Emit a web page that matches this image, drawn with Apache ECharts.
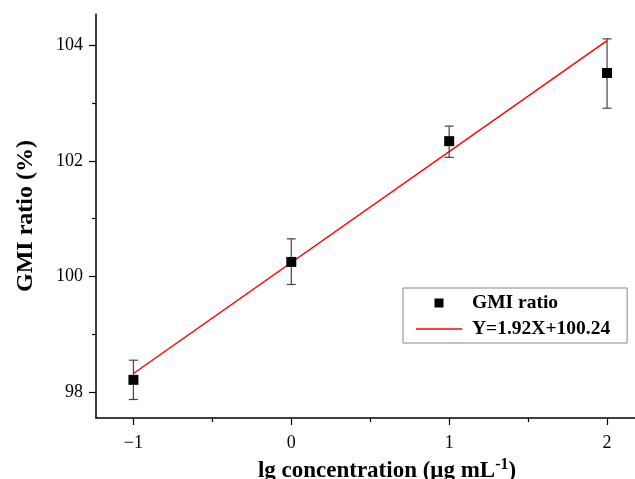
<!DOCTYPE html>
<html>
<head>
<meta charset="utf-8">
<script src="https://cdn.jsdelivr.net/npm/echarts@6/dist/echarts.min.js"></script>
<style>
  html, body { margin: 0; padding: 0; background: #fff; }
  #chart { width: 635px; height: 479px; }
</style>
</head>
<body>
<div id="chart"></div>
<script>
// data
const conc = [-1, 0, 1, 2];
const gmiRatio = [98.21, 100.25, 102.34, 103.52];
const errLow = [97.87, 99.86, 102.06, 102.91];
const errHigh = [98.55, 100.65, 102.60, 104.11];
const fitX = [-1, 2];
const fitY = [98.32, 104.08];
const xTicks = [-1, 0, 1, 2];
const xMinor = [-0.5, 0.5, 1.5];
const yTicks = [98, 100, 102, 104];
const yMinor = [99, 101, 103];

const FONT = '"Liberation Serif", "DejaVu Serif", serif';

(function(){
  const chart = echarts.init(document.getElementById('chart'));

  const axisLine = { show: true, onZero: false, lineStyle: { color: '#000', width: 1.5 } };

  const points = conc.map((x, i) => [x, gmiRatio[i]]);
  const bars = conc.map((x, i) => [x, errLow[i], errHigh[i]]);
  const fit = fitX.map((x, i) => [x, fitY[i]]);

  function renderErr(params, api){
    const lo = api.coord([api.value(0), api.value(1)]);
    const hi = api.coord([api.value(0), api.value(2)]);
    const cap = 4.5;
    const style = { stroke: '#444', lineWidth: 1.2 };
    return {
      type: 'group',
      children: [
        { type: 'line', shape: { x1: lo[0], y1: lo[1], x2: hi[0], y2: hi[1] }, style },
        { type: 'line', shape: { x1: lo[0]-cap, y1: lo[1], x2: lo[0]+cap, y2: lo[1] }, style },
        { type: 'line', shape: { x1: hi[0]-cap, y1: hi[1], x2: hi[0]+cap, y2: hi[1] }, style }
      ]
    };
  }

  chart.setOption({
    animation: false,
    grid: { left: 96, right: 0, top: 14, bottom: 61, outerBoundsMode: 'none' },
    legend: {
      orient: 'vertical',
      left: 403, top: 288,
      itemWidth: 46, itemHeight: 9, itemGap: 6,
      padding: [5, 17, 4, 13],
      borderColor: '#888', borderWidth: 1,
      symbolKeepAspect: true,
      textStyle: { fontFamily: FONT, fontWeight: 'bold', fontSize: 19.5, color: '#000', lineHeight: 20, padding: [0, 0, 0, 5] },
      data: [
        { name: 'GMI ratio', icon: 'path://M0,0H10V10H0Z' },
        { name: 'Y=1.92X+100.24', icon: 'path://M0,0H46V1.5H0Z' }
      ]
    },
    xAxis: [
      {
        type: 'value', min: -1.237, max: 2.177, position: 'bottom',
        axisLine,
        splitLine: { show: false },
        axisTick: { show: true, length: 7, customValues: xTicks, lineStyle: { color: '#000', width: 1.2 } },
        axisLabel: {
          customValues: xTicks, margin: 16,
          fontFamily: FONT, fontSize: 18, color: '#000',
          formatter: v => String(v).replace('-', '\u2212')
        },
        name: '{a|lg concentration (\u03bcg mL}{s|-1}{a|)}',
        nameLocation: 'middle', nameGap: 33,
        nameTextStyle: {
          padding: [0, 0, 0, 43],
          rich: {
            a: { fontFamily: FONT, fontWeight: 'bold', fontSize: 23, color: '#000', verticalAlign: 'bottom', lineHeight: 26 },
            s: { fontFamily: FONT, fontWeight: 'bold', fontSize: 16, color: '#000', verticalAlign: 'top', lineHeight: 26, padding: [0, 0, 8, 0] }
          }
        }
      },
      {
        type: 'value', min: -1.237, max: 2.177, position: 'bottom',
        axisLine: { show: false, onZero: false },
        splitLine: { show: false },
        axisTick: { show: true, length: 4, customValues: xMinor, lineStyle: { color: '#000', width: 1.2 } },
        axisLabel: { show: false, customValues: xMinor }
      }
    ],
    yAxis: [
      {
        type: 'value', min: 97.55, max: 104.54, position: 'left',
        axisLine,
        splitLine: { show: false },
        axisTick: { show: true, length: 7, customValues: yTicks, lineStyle: { color: '#000', width: 1.2 } },
        axisLabel: { customValues: yTicks, margin: 13, fontFamily: FONT, fontSize: 18, color: '#000' },
        name: 'GMI ratio (%)',
        nameLocation: 'middle', nameGap: 58, nameRotate: 90,
        nameTextStyle: { fontFamily: FONT, fontWeight: 'bold', fontSize: 24, color: '#000' }
      },
      {
        type: 'value', min: 97.55, max: 104.54, position: 'left',
        axisLine: { show: false, onZero: false },
        splitLine: { show: false },
        axisTick: { show: true, length: 4, customValues: yMinor, lineStyle: { color: '#000', width: 1.2 } },
        axisLabel: { show: false, customValues: yMinor }
      }
    ],
    series: [
      {
        name: 'Y=1.92X+100.24', type: 'line', data: fit,
        symbol: 'none', lineStyle: { color: '#ff0000', width: 1.5 }, itemStyle: { color: '#ff0000' }, z: 3
      },
      {
        name: 'errors', type: 'custom', renderItem: renderErr, data: bars,
        encode: { x: 0, y: [1, 2] }, z: 2
      },
      {
        name: 'GMI ratio', type: 'scatter', data: points,
        symbol: 'rect', symbolSize: 10, itemStyle: { color: '#000', opacity: 1 }, z: 4
      }
    ]
  });
})();
</script>
</body>
</html>
